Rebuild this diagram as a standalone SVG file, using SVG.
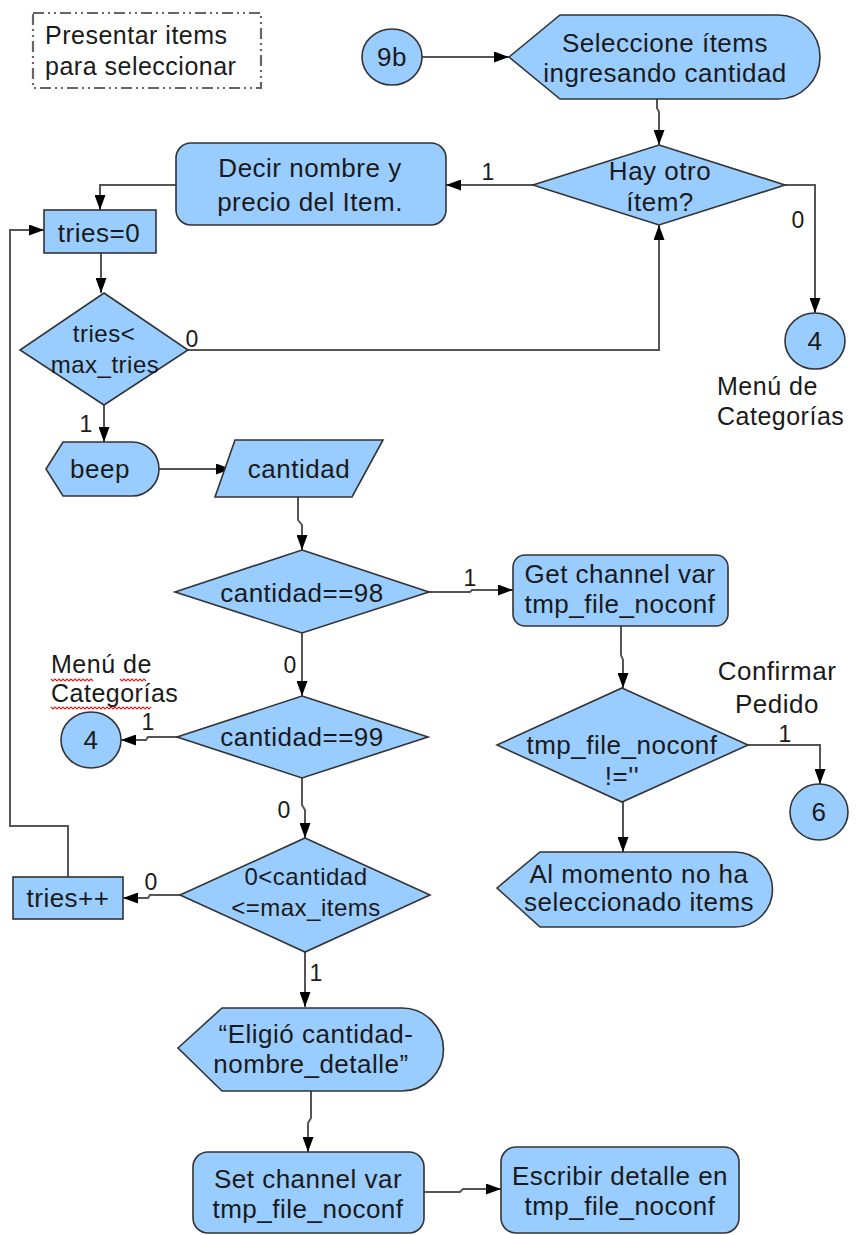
<svg xmlns="http://www.w3.org/2000/svg" width="858" height="1235" viewBox="0 0 858 1235">
<defs>
<marker id="ah" markerWidth="15" markerHeight="11" refX="15" refY="5.5" orient="auto" markerUnits="userSpaceOnUse"><path d="M0,0 L15,5.5 L0,11 Z" fill="#000"/></marker>
<style>
.n{fill:#99ccff;stroke:#333;stroke-width:1.6}
.t{font-family:"Liberation Sans",Arial,sans-serif;font-size:26px;letter-spacing:0.5px;fill:#1a1a1a;text-anchor:middle}
.s{font-size:24px}
.l{font-family:"Liberation Sans",Arial,sans-serif;font-size:25px;letter-spacing:0.5px;fill:#1a1a1a}
.lb{font-family:"Liberation Sans",Arial,sans-serif;font-size:23px;fill:#1a1a1a;text-anchor:middle}
.c{fill:none;stroke:#555;stroke-width:2;marker-end:url(#ah)}
.w{fill:none;stroke:#e02020;stroke-width:1.2}
</style>
</defs>
<rect width="858" height="1235" fill="#fff"/>

<g id="note">
<rect x="33" y="13" width="228" height="75" fill="none" stroke="#666" stroke-width="2.2" stroke-dasharray="11,4,2,4,2,4"/>
<text class="l" x="45" y="44">Presentar items</text>
<text class="l" x="45" y="75">para seleccionar</text>
</g>

<g id="connectors">
<path class="c" d="M422,57 L509,57"/>
<path class="c" d="M657,99 L657,108 L659,112 L659,145"/>
<path class="c" d="M533,185 L446,185"/>
<path class="c" d="M785,185 L815,185 L815,313"/>
<path class="c" d="M176,185 L100,185 L100,210"/>
<path class="c" d="M101,253 L101,293"/>
<path class="c" d="M188,350 L659,350 L659,225"/>
<path class="c" d="M104,405 L104,442"/>
<path class="c" d="M159,469 L231,469"/>
<path class="c" d="M298,497 L298,520 L302,525 L302,550"/>
<path class="c" d="M429,592 L470,592 L472,590 L513,590"/>
<path class="c" d="M621,626 L621,655 L623,660 L623,688"/>
<path class="c" d="M748,745 L820,745 L820,784"/>
<path class="c" d="M623,802 L623,852"/>
<path class="c" d="M302,633 L302,696"/>
<path class="c" d="M177,737 L148,737 L146,740 L121,740"/>
<path class="c" d="M302,778 L302,805 L305,810 L305,838"/>
<path class="c" d="M180,895 L150,895 L148,898 L123,898"/>
<path class="c" d="M68,877 L68,826 L10,826 L10,230 L44,230"/>
<path class="c" d="M305,952 L305,1007"/>
<path class="c" d="M311,1091 L311,1118 L308,1123 L308,1152"/>
<path class="c" d="M424,1192 L460,1192 L463,1189 L501,1189"/>
<text class="lb" x="488" y="180">1</text>
<text class="lb" x="798" y="228">0</text>
<text class="lb" x="192" y="347">0</text>
<text class="lb" x="86" y="432">1</text>
<text class="lb" x="470" y="586">1</text>
<text class="lb" x="785" y="742">1</text>
<text class="lb" x="290" y="673">0</text>
<text class="lb" x="148" y="730">1</text>
<text class="lb" x="284" y="818">0</text>
<text class="lb" x="151" y="890">0</text>
<text class="lb" x="316" y="981">1</text>
</g>

<g id="n9b">
<ellipse class="n" cx="392" cy="57" rx="30" ry="28"/>
<text class="t" x="392" y="66">9b</text>
</g>

<g id="seleccione">
<path class="n" d="M509,57 L560,15 L778,15 A42,42 0 0 1 778,99 L560,99 Z"/>
<text class="t" x="665" y="52">Seleccione ítems</text>
<text class="t" x="665" y="82">ingresando cantidad</text>
</g>

<g id="hayotro">
<path class="n" d="M659,145 L785,185 L659,225 L533,185 Z"/>
<text class="t" x="660" y="180">Hay otro</text>
<text class="t" x="660" y="211">ítem?</text>
</g>

<g id="decir">
<rect class="n" x="176" y="143" width="270" height="82" rx="15"/>
<text class="t" x="310" y="177">Decir nombre y</text>
<text class="t" x="310" y="211">precio del Item.</text>
</g>

<g id="tries0">
<rect class="n" x="44" y="210" width="112" height="43"/>
<text class="t" x="99" y="242">tries=0</text>
</g>

<g id="triesdec">
<path class="n" d="M104,293 L188,350 L104,405 L20,350 Z"/>
<text class="t s" x="104" y="342">tries&lt;</text>
<text class="t s" x="105" y="373">max_tries</text>
</g>

<g id="c4top">
<ellipse class="n" cx="815" cy="341" rx="30" ry="28"/>
<text class="t" x="815" y="350">4</text>
<text class="l" x="717" y="395">Menú de</text>
<text class="l" x="717" y="425">Categorías</text>
</g>

<g id="beep">
<path class="n" d="M46,469 L63,442 L132,442 A27,27 0 0 1 132,496 L63,496 Z"/>
<text class="t" x="100" y="478">beep</text>
</g>

<g id="cantidad">
<path class="n" d="M235,440 L383,440 L352,497 L215,497 Z"/>
<text class="t" x="299" y="478">cantidad</text>
</g>

<g id="c98">
<path class="n" d="M302,550 L429,592 L302,633 L175,592 Z"/>
<text class="t" x="302" y="602">cantidad==98</text>
</g>

<g id="getchan">
<rect class="n" x="513" y="555" width="215" height="71" rx="12"/>
<text class="t" x="620" y="583">Get channel var</text>
<text class="t" x="620" y="613">tmp_file_noconf</text>
</g>

<g id="tmpdec">
<path class="n" d="M622,688 L748,745 L622,802 L497,745 Z"/>
<text class="t" x="622" y="754">tmp_file_noconf</text>
<text class="t" x="622" y="785">!=''</text>
</g>

<g id="c6">
<text class="t" x="777" y="680">Confirmar</text>
<text class="t" x="777" y="713">Pedido</text>
<ellipse class="n" cx="819" cy="812" rx="29" ry="28"/>
<text class="t" x="819" y="821">6</text>
</g>

<g id="almomento">
<path class="n" d="M497,888 L540,852 L735,852 A37.5,37.5 0 0 1 735,927 L540,927 Z"/>
<text class="t" x="639" y="883">Al momento no ha</text>
<text class="t" x="639" y="911">seleccionado items</text>
</g>

<g id="c99">
<path class="n" d="M302,696 L428,737 L302,778 L177,737 Z"/>
<text class="t" x="302" y="746">cantidad==99</text>
</g>

<g id="c4left">
<text class="l" x="51" y="673" font-size="24">Menú de</text>
<text class="l" x="51" y="702" font-size="24">Categorías</text>
<path class="w" d="M51,679 l2,2 l2,-2 l2,2 l2,-2 l2,2 l2,-2 l2,2 l2,-2 l2,2 l2,-2 l2,2 l2,-2 l2,2 l2,-2 l2,2 l2,-2 l2,2 l2,-2 l2,2 l2,-2 l2,2"/>
<path class="w" d="M120,679 l2,2 l2,-2 l2,2 l2,-2 l2,2 l2,-2 l2,2 l2,-2 l2,2 l2,-2 l2,2 l2,-2 l2,2"/>
<path class="w" d="M51,707 l2,2 l2,-2 l2,2 l2,-2 l2,2 l2,-2 l2,2 l2,-2 l2,2 l2,-2 l2,2 l2,-2 l2,2 l2,-2 l2,2 l2,-2 l2,2 l2,-2 l2,2 l2,-2 l2,2 l2,-2 l2,2 l2,-2 l2,2 l2,-2 l2,2 l2,-2 l2,2 l2,-2 l2,2 l2,-2 l2,2 l2,-2 l2,2 l2,-2 l2,2 l2,-2 l2,2 l2,-2 l2,2 l2,-2 l2,2 l2,-2 l2,2 l2,-2 l2,2 l2,-2 l2,2 l2,-2"/>
<ellipse class="n" cx="91" cy="740" rx="30" ry="28"/>
<text class="t" x="91" y="749">4</text>
</g>

<g id="crange">
<path class="n" d="M305,838 L430,895 L305,952 L180,895 Z"/>
<text class="t s" x="306" y="885">0&lt;cantidad</text>
<text class="t s" x="306" y="916">&lt;=max_items</text>
</g>

<g id="triesinc">
<rect class="n" x="13" y="877" width="110" height="42"/>
<text class="t" x="68" y="907">tries++</text>
</g>

<g id="eligio">
<path class="n" d="M178,1048 L222,1008 L402,1008 A41.5,41.5 0 0 1 402,1091 L222,1091 Z"/>
<text class="t" x="316" y="1043">“Eligió cantidad-</text>
<text class="t" x="311" y="1073">nombre_detalle”</text>
</g>

<g id="setchan">
<rect class="n" x="193" y="1152" width="231" height="81" rx="15"/>
<text class="t" x="308" y="1188">Set channel var</text>
<text class="t" x="308" y="1218">tmp_file_noconf</text>
</g>

<g id="escribir">
<rect class="n" x="501" y="1147" width="238" height="86" rx="15"/>
<text class="t" x="620" y="1185">Escribir detalle en</text>
<text class="t" x="620" y="1215">tmp_file_noconf</text>
</g>
</svg>
